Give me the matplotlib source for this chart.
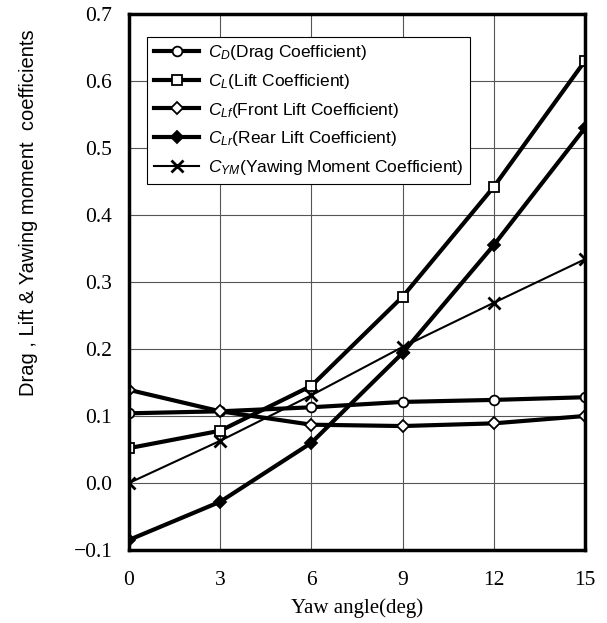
import matplotlib.pyplot as plt

yaw = [0, 3, 6, 9, 12, 15]
cd = [0.104, 0.107, 0.113, 0.121, 0.124, 0.128]
cl = [0.052, 0.078, 0.145, 0.278, 0.442, 0.630]
clf = [0.139, 0.107, 0.087, 0.085, 0.089, 0.100]
clr = [-0.085, -0.028, 0.060, 0.194, 0.355, 0.530]
cym = [0.000, 0.063, 0.131, 0.203, 0.269, 0.334]

labels = [r'$\mathit{C_D}$(Drag Coefficient)', r'$\mathit{C_L}$(Lift Coefficient)',
          r'$\mathit{C_{Lf}}$(Front Lift Coefficient)', r'$\mathit{C_{Lr}}$(Rear Lift Coefficient)',
          r'$\mathit{C_{YM}}$(Yawing Moment Coefficient)']

plt.rcParams['mathtext.fontset'] = 'custom'
plt.rcParams['mathtext.it'] = 'Liberation Sans:italic'
plt.rcParams['mathtext.rm'] = 'Liberation Sans'

fig = plt.figure(figsize=(6.07, 6.23), dpi=100)
ax = fig.add_axes([0.2125, 0.1172, 0.7512, 0.8603])

ax.plot(yaw, cd, '-o', color='k', lw=3, ms=7, mfc='white', mew=1.3, label=labels[0])
ax.plot(yaw, cl, '-s', color='k', lw=3, ms=7, mfc='white', mew=1.3, label=labels[1])
ax.plot(yaw, clf, '-D', color='k', lw=3, ms=6, mfc='white', mew=1.3, label=labels[2])
ax.plot(yaw, clr, '-D', color='k', lw=3, ms=6, mfc='black', mew=1.3, label=labels[3])
ax.plot(yaw, cym, '-x', color='k', lw=1.5, ms=9, mew=2, label=labels[4])

ax.set_xlim(0, 15)
ax.set_ylim(-0.1, 0.7)
ax.set_xticks(yaw)
ax.set_yticks([-0.1, 0.0, 0.1, 0.2, 0.3, 0.4, 0.5, 0.6, 0.7])
ax.set_yticklabels(['\u22120.1', '0.0', '0.1', '0.2', '0.3', '0.4', '0.5', '0.6', '0.7'])
for t in ax.get_xticklabels() + ax.get_yticklabels():
    t.set_fontfamily('Liberation Serif')
    t.set_fontsize(15.5)
ax.tick_params(axis='y', length=0, pad=12)
ax.tick_params(axis='x', length=0, pad=15)
ax.grid(color='#555555', lw=0.8)
for s in ax.spines.values():
    s.set_linewidth(2.5)

ax.set_xlabel('Yaw angle(deg)', fontfamily='Liberation Serif', fontsize=15, labelpad=6)
ax.set_ylabel('Drag , Lift & Yawing moment  coefficients', fontfamily='Liberation Sans',
              fontsize=14.5)
ax.yaxis.set_label_coords(-0.2, 0.63)

leg = ax.legend(loc='upper left', bbox_to_anchor=(0.04, 0.958), prop={'family': 'Liberation Sans', 'size': 12.5},
                fancybox=False, framealpha=1, edgecolor='k', borderpad=0.4,
                handlelength=2.6, labelspacing=0.55, handletextpad=0.5, borderaxespad=0)
leg.get_frame().set_linewidth(0.8)

fig.savefig('out.png', dpi=100)
